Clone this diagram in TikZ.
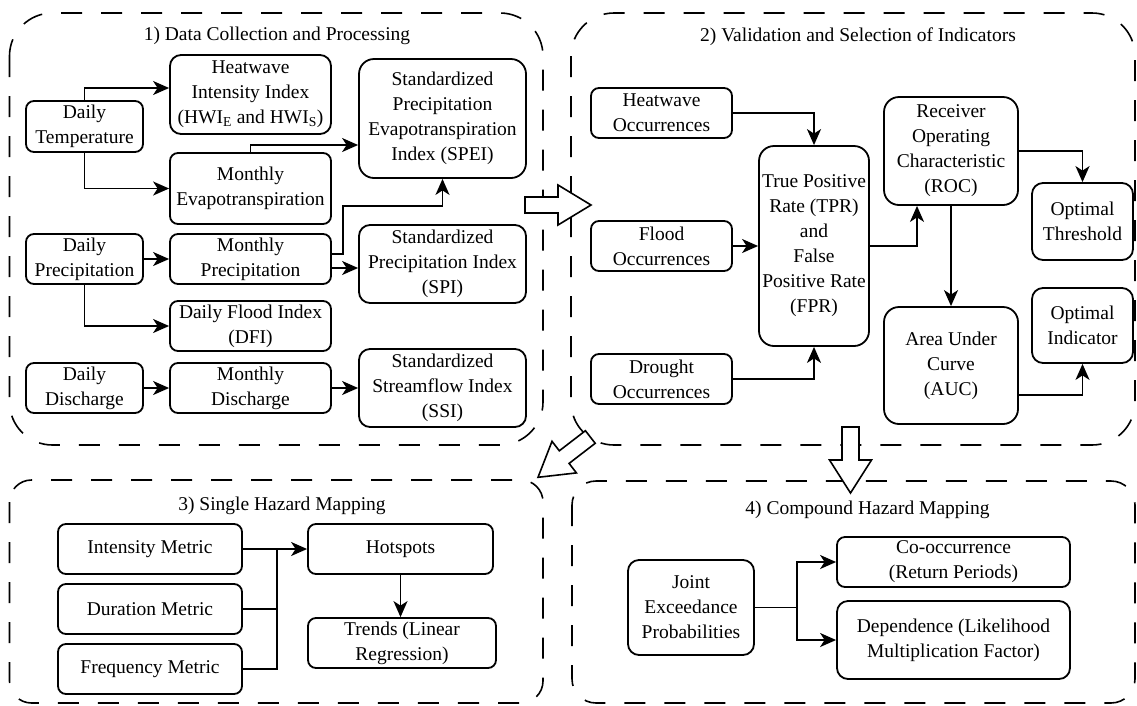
\documentclass[tikz,border=0pt]{standalone}
\usepackage{fontspec}
\setmainfont{Liberation Serif}
\usetikzlibrary{arrows.meta,calc}
\begin{document}
\begin{tikzpicture}[x=1pt,y=-1pt,
  box/.style={draw, line width=1.8pt, rounded corners=8pt, align=center, inner sep=0pt, font=\fontsize{19.5}{25}\selectfont},
  midbox/.style={box, rounded corners=11pt},
  bigbox/.style={box, rounded corners=15pt},
  sz/.style 2 args={minimum width=#1pt, minimum height=#2pt},
  panel/.style={draw, line width=1.6pt, dash pattern=on 21pt off 19pt},
  ttl/.style={font=\fontsize{19.5}{25}\selectfont, inner sep=0pt},
  arr/.style={line width=1.8pt, -{Stealth[length=16pt,width=14pt,inset=4.5pt]}},
  ln/.style={line width=1.8pt},
  flow/.style={draw, fill=white, line width=1.6pt, line join=miter}
]
\useasboundingbox (0,0) rectangle (1137,705);

% panels
\draw[panel, rounded corners=43pt] (9.5,13) rectangle (543,445);
\draw[panel, rounded corners=43pt] (571,13) rectangle (1135,445);
\draw[panel, rounded corners=22pt] (9.5,480) rectangle (543,703);
\draw[panel, rounded corners=24pt] (572,481) rectangle (1135,703);

\node[ttl] (t1) at (277,36) {1) Data Collection and Processing};
\node[ttl] (t2) at (858,37) {2) Validation and Selection of Indicators};
\node[ttl] (t3) at (282,506) {3) Single Hazard Mapping};
\node[ttl] (t4) at (867.5,510) {4) Compound Hazard Mapping};

% panel 1
\node[box, sz={117}{51}] (dt) at (84.5,126.5) {Daily\\Temperature};
\node[midbox, sz={161}{79}] (hwi) at (250.5,94.5) {Heatwave\\Intensity Index\\(HWI\textsubscript{E} and HWI\textsubscript{S})};
\node[box, sz={161}{71}] (me) at (250.5,188.5) {Monthly\\Evapotranspiration};
\node[bigbox, sz={167}{119}] (spei) at (442.5,118.5) {Standardized\\Precipitation\\Evapotranspiration\\Index (SPEI)};
\node[box, sz={117}{50}] (dp) at (84.5,259) {Daily\\Precipitation};
\node[box, sz={161}{50}] (mp) at (250.5,259) {Monthly\\Precipitation};
\node[midbox, sz={167}{78}] (spi) at (442.5,264) {Standardized\\Precipitation Index\\(SPI)};
\node[box, sz={161}{50}] (dfi) at (250.5,326) {Daily Flood Index\\(DFI)};
\node[box, sz={117}{50}] (dd) at (84.5,388) {Daily\\Discharge};
\node[box, sz={161}{50}] (md) at (250.5,388) {Monthly\\Discharge};
\node[midbox, sz={167}{78}] (ssi) at (442.5,388) {Standardized\\Streamflow Index\\(SSI)};

\draw[arr] (dt.north) |- ([yshift=6.5pt]hwi.west);
\draw[arr] (dt.south) |- (me.west);
\draw[arr] (me.north) |- ([yshift=-26.5pt]spei.west);
\draw[arr] ([yshift=5pt]mp.east) -- ++(11,0) |- ([yshift=-27pt]spei.south) -- (spei.south);
\draw[arr] ([yshift=-9pt]mp.east) -- ([yshift=-9pt]mp.east -| spi.west);
\draw[arr] (dp.east) -- (mp.west);
\draw[arr] (dp.south) |- (dfi.west);
\draw[arr] (dd.east) -- (md.west);
\draw[arr] (md.east) -- (ssi.west);

% panel 2
\node[box, sz={141}{50}] (ho) at (661.5,113) {Heatwave\\Occurrences};
\node[box, sz={141}{50}] (fo) at (661.5,246) {Flood\\Occurrences};
\node[box, sz={141}{50}] (dro) at (661.5,379) {Drought\\Occurrences};
\node[bigbox, sz={110}{200}] (tpr) at (814,246) {True Positive\\Rate (TPR)\\and\\False\\Positive Rate\\(FPR)};
\node[bigbox, sz={134}{108}] (roc) at (951,151) {Receiver\\Operating\\Characteristic\\(ROC)};
\node[midbox, sz={101}{77}] (ot) at (1082.5,221.5) {Optimal\\Threshold};
\node[midbox, sz={101}{75}] (oi) at (1082.5,325.5) {Optimal\\Indicator};
\node[bigbox, sz={134}{117}] (auc) at (951,365.5) {Area Under\\Curve\\(AUC)};

\draw[arr] (ho.east) -| (tpr.north);
\draw[arr] (fo.east) -- (tpr.west);
\draw[arr] (dro.east) -| (tpr.south);
\draw[arr] (tpr.east) -| ([xshift=-34pt]roc.south);
\draw[arr] (roc.east) -| (ot.north);
\draw[arr] (roc.south) -- (auc.north);
\draw[arr] ([yshift=-29.5pt]auc.east) -| (oi.south);

% panel 3
\node[box, sz={184}{50}] (im) at (150,549) {Intensity Metric};
\node[box, sz={184}{50}] (dm) at (150,609) {Duration Metric};
\node[box, sz={184}{50}] (fm) at (150,669) {Frequency Metric};
\node[box, sz={185}{50}] (hs) at (400.5,549) {Hotspots};
\node[box, sz={188}{50}] (tr) at (402,643) {Trends (Linear\\Regression)};

\coordinate (j) at ([xshift=34pt]im.east);
\draw[arr] (im.east) -- (hs.west);
\draw[ln] (dm.east) -- (dm.east -| j);
\draw[ln] (fm.east) -| (j);
\draw[arr] (hs.south) -- (hs.south |- tr.north);

% panel 4
\node[midbox, sz={126}{95}] (jep) at (691,607.5) {Joint\\Exceedance\\Probabilities};
\node[box, sz={233}{50}] (co) at (953.5,562) {Co-occurrence\\(Return Periods)};
\node[midbox, sz={233}{78}] (dep) at (953.5,640) {Dependence (Likelihood\\Multiplication Factor)};

\coordinate (k) at ([xshift=42pt]jep.east);
\draw[ln] (jep.east) -- (k);
\draw[arr] (k) |- (co.west);
\draw[arr] (k) |- (dep.west);

% big flow arrows between panels
\draw[flow] (525,197) -- (558,197) -- (558,185) -- (591,205) -- (558,225) -- (558,213) -- (525,213) -- cycle;
\draw[flow] (842,427) -- (859,427) -- (859,460) -- (871.5,460) -- (850.5,493) -- (829.5,460) -- (842,460) -- cycle;
\draw[flow] (585.4,430.7) -- (595.2,443.3) -- (569.1,463.4) -- (576.4,472.9) -- (538,477.3) -- (552.0,441.3) -- (559.3,450.8) -- cycle;
\end{tikzpicture}
\end{document}
